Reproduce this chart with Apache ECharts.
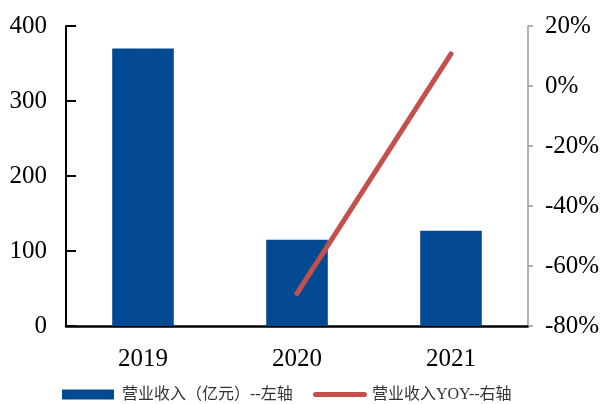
<!DOCTYPE html>
<html>
<head>
<meta charset="utf-8">
<script src="https://cdn.jsdelivr.net/npm/echarts@6/dist/echarts.min.js"></script>
<style>html,body{margin:0;padding:0;background:#fff;}#c{width:605px;height:404px;}</style>
</head>
<body>
<div id="c"></div>
<script>
const categories = ['2019', '2020', '2021'];
const revenue = [370, 115, 127];
const revenueYoy = [null, -69.1, 10.7];
const leftTicks = { min: 0, max: 400, interval: 100 };
const rightTicks = { min: -80, max: 20, interval: 20 };
const barName = '营业收入（亿元）--左轴';
const lineName = '营业收入YOY--右轴';

const chart = echarts.init(document.getElementById('c'), null, { renderer: 'canvas' });
const serif = '"Liberation Serif", "Times New Roman", serif';
const legendFont = '"Liberation Serif", "Noto Sans CJK SC", serif';
chart.setOption({
  animation: false,
  backgroundColor: '#ffffff',
  grid: { left: 66, right: 77, top: 26, bottom: 78, containLabel: false },
  legend: [
    {
      data: [barName], left: 62, top: 386, padding: 0, itemWidth: 52, itemHeight: 10,
      icon: 'rect', itemGap: 0,
      textStyle: { fontFamily: legendFont, fontSize: 16, color: '#333', padding: [0, 0, 0, 3], lineHeight: 17 }
    },
    {
      data: [{ name: lineName, icon: 'path://M2.5,0 L51.5,0 A2.5,2.5 0 0 1 51.5,5 L2.5,5 A2.5,2.5 0 0 1 2.5,0 Z' }],
      left: 313, top: 386, padding: 0, itemWidth: 54, itemHeight: 5, itemGap: 0,
      textStyle: { fontFamily: legendFont, fontSize: 16, color: '#333', padding: [0, 0, 0, 0], lineHeight: 17 }
    }
  ],
  xAxis: {
    type: 'category', data: categories,
    axisLine: { lineStyle: { color: '#000', width: 2.5 } },
    axisTick: { show: false },
    axisLabel: { fontFamily: serif, fontSize: 25, color: '#000', margin: 21 }
  },
  yAxis: [
    {
      type: 'value', min: leftTicks.min, max: leftTicks.max, interval: leftTicks.interval,
      axisLine: { show: true, lineStyle: { color: '#000', width: 2 } },
      axisTick: { show: true, inside: true, length: 10, lineStyle: { color: '#000', width: 2 } },
      splitLine: { show: false },
      axisLabel: { fontFamily: serif, fontSize: 25, color: '#000', margin: 19 }
    },
    {
      type: 'value', position: 'right', min: rightTicks.min, max: rightTicks.max, interval: rightTicks.interval,
      axisLine: { show: true, lineStyle: { color: '#999', width: 1.5 } },
      axisTick: { show: true, inside: false, length: 5, lineStyle: { color: '#999', width: 1.5 } },
      splitLine: { show: false },
      axisLabel: { fontFamily: serif, fontSize: 25, color: '#000', margin: 17, formatter: '{value}%' }
    }
  ],
  series: [
    {
      name: barName, type: 'bar', data: revenue, barWidth: '40%', yAxisIndex: 0,
      itemStyle: { color: '#034A93' }
    },
    {
      name: lineName, type: 'line', data: revenueYoy, yAxisIndex: 1,
      showSymbol: false, symbol: 'none', connectNulls: false,
      itemStyle: { color: '#C4504C' },
      lineStyle: { color: '#C4504C', width: 5, cap: 'round' }
    }
  ]
});
</script>
</body>
</html>
